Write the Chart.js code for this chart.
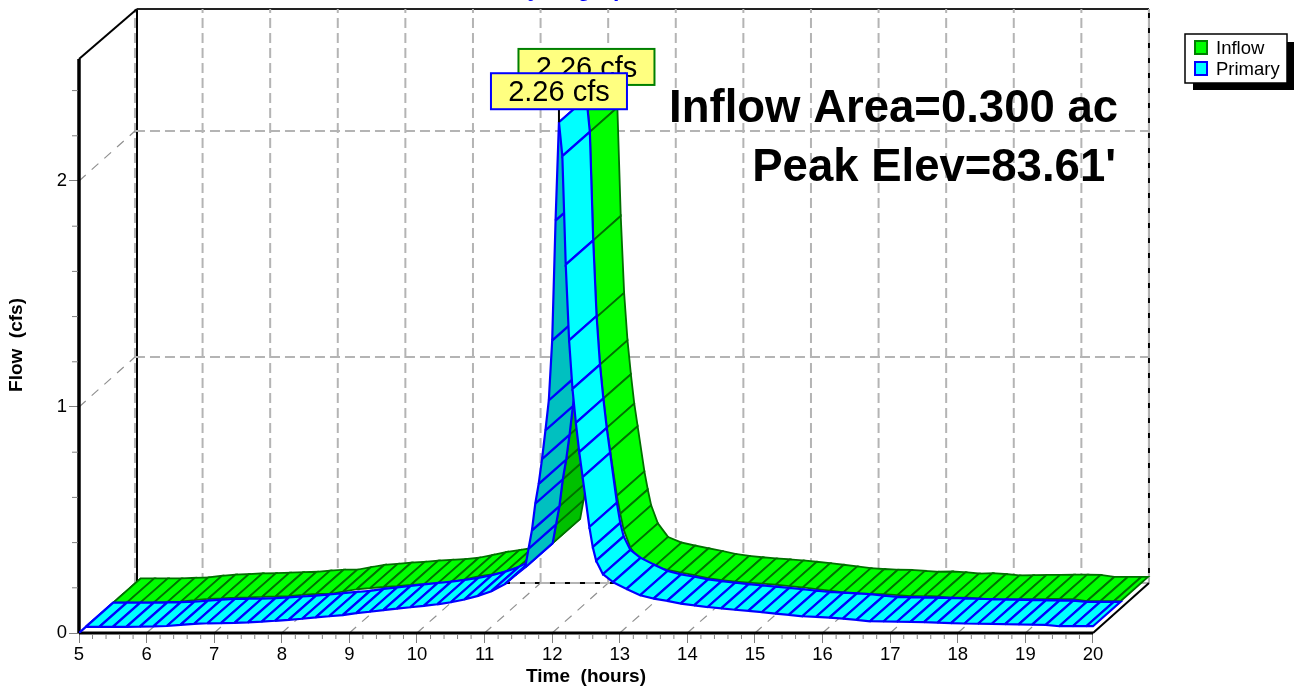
<!DOCTYPE html>
<html>
<head>
<meta charset="utf-8">
<title>Hydrograph</title>
<script src="https://cdn.jsdelivr.net/npm/chart.js@4/dist/chart.umd.min.js"></script>
<style>
  html, body { margin: 0; padding: 0; background: #fff; overflow: hidden; }
  canvas { display: block; }
</style>
</head>
<body>
<canvas id="myChart" width="1294" height="688"></canvas>
<script>
const seriesNames = ['Inflow', 'Primary']
const xTicks = [5, 6, 7, 8, 9, 10, 11, 12, 13, 14, 15, 16, 17, 18, 19, 20]
const yTicks = [0, 1, 2]
const peakLabels = ['2.26 cfs', '2.26 cfs']
const notes = ['Inflow Area=0.300 ac', "Peak Elev=83.61'"]

// hours, one entry per hatch line on the ribbons
const times = [5, 5.1, 5.3, 5.5, 5.7, 5.9, 6.1, 6.3, 6.5, 6.7, 6.9, 7.1, 7.3, 7.5, 7.7, 7.9, 8.1, 8.3, 8.5, 8.7,
  8.9, 9.1, 9.3, 9.5, 9.7, 9.9, 10.1, 10.3, 10.5, 10.7, 10.9, 11.1, 11.3, 11.45, 11.6, 11.65, 11.7, 11.75, 11.8, 11.85,
  11.9, 11.95, 12, 12.05, 12.1, 12.15, 12.2, 12.25, 12.3, 12.35, 12.4, 12.45, 12.55, 12.6, 12.65, 12.75, 12.9, 13.1, 13.3, 13.5,
  13.7, 13.9, 14.1, 14.3, 14.5, 14.7, 14.9, 15.1, 15.3, 15.5, 15.7, 15.9, 16.1, 16.3, 16.5, 16.7, 16.9, 17.1, 17.3, 17.5,
  17.7, 17.9, 18.1, 18.3, 18.5, 18.7, 18.9, 19.1, 19.3, 19.5, 19.7, 19.9, 20]

const inflow = [0, .027, .027, .027, .027, .029, .031, .038, .043, .046, .049, .05, .052, .054, .056, .061, .065, .065, .076, .086,
  .091, .096, .1, .105, .109, .112, .118, .13, .143, .152, .162, .185, .216, .255, .29, .373, .454, .573, .66, .77,
  .897, 1.03, 1.295, 1.826, 2.26, 2.11, 1.63, 1.29, 1.08, .93, .8, .7, .5, .42, .35, .27, .21, .185, .172, .16,
  .148, .135, .126, .12, .115, .111, .106, .1, .094, .087, .08, .072, .068, .065, .064, .06, .056, .057, .054, .048,
  .05, .046, .04, .041, .042, .042, .043, .043, .042, .033, .033, .033, .033]

const primary = [0, .027, .027, .027, .027, .028, .029, .031, .036, .04, .043, .044, .045, .047, .05, .054, .058, .063, .069, .074,
  .079, .088, .094, .101, .108, .114, .12, .127, .136, .148, .164, .185, .216, .255, .29, .373, .454, .573, .66, .77,
  .897, 1.03, 1.295, 1.826, 2.26, 2.11, 1.63, 1.295, 1.08, .93, .8, .69, .469, .38, .32, .26, .225, .195, .167, .152,
  .142, .13, .122, .115, .109, .103, .098, .092, .086, .08, .074, .071, .068, .064, .058, .052, .051, .05, .049, .048,
  .046, .044, .042, .041, .04, .039, .038, .037, .036, .03, .03, .03, .03]

// one ribbon is this deep, in axis units
const ribbonT = 0.407
const ribbonV = 0.1075
// the box behind the plot
const wallT = 0.858
const gridT = 0.828
const wallV = 0.2212
const axisTop = 2.54

const ribbon = (values, depth, face, back, edge, width) => {
  const list = []
  for (let i = 0; i < times.length - 1; i++) {
    const t0 = times[i] + depth * ribbonT
    const t1 = times[i + 1] + depth * ribbonT
    const v0 = values[i] + depth * ribbonV
    const v1 = values[i + 1] + depth * ribbonV
    const seenFromBehind = (v1 - v0) / (t1 - t0) > ribbonV / ribbonT
    list.push({
      data: [
        {x: t0, y: v0},
        {x: t1, y: v1},
        {x: t1 + ribbonT, y: v1 + ribbonV},
        {x: t0 + ribbonT, y: v0 + ribbonV},
        {x: t0, y: v0},
      ],
      fill: 'shape',
      backgroundColor: seenFromBehind ? back : face,
      borderColor: edge,
      borderWidth: width,
      pointRadius: 0,
      tension: 0,
    })
  }
  return list
}

// chart.js paints the last dataset first
const datasets = [
  ...ribbon(inflow, 1, '#00ff00', '#00c000', '#007000', 1.8),
  ...ribbon(primary, 0, '#00ffff', '#00c0c0', '#0000ff', 2.2),
].reverse()

const line = (ctx, x0, y0, x1, y1, color, width, dash) => {
  ctx.save()
  ctx.strokeStyle = color
  ctx.lineWidth = width
  ctx.setLineDash(dash || [])
  ctx.beginPath()
  ctx.moveTo(x0, y0)
  ctx.lineTo(x1, y1)
  ctx.stroke()
  ctx.restore()
}

const text = (ctx, str, x, y, font, color, align) => {
  ctx.font = font
  ctx.fillStyle = color
  ctx.textAlign = align || 'center'
  ctx.textBaseline = 'middle'
  ctx.fillText(str, x, y)
}

const box3d = {
  id: 'box3d',
  beforeDatasetsDraw(chart) {
    const {ctx, scales: {x, y}} = chart
    const px = t => x.getPixelForValue(t)
    const py = v => y.getPixelForValue(v)
    const grey = '#b4b4b4'
    const thin = '#909090'

    // back wall
    line(ctx, px(5 + wallT), py(0 + wallV), px(5 + wallT), py(axisTop + wallV), '#000', 2)
    line(ctx, px(5 + wallT), py(axisTop + wallV), px(20 + gridT), py(axisTop + wallV), '#222', 2)
    line(ctx, px(20 + gridT), py(0 + wallV), px(20 + gridT), py(axisTop + wallV), '#000', 2)
    line(ctx, px(5 + wallT), py(wallV), px(20 + gridT), py(wallV), '#000', 2)
    xTicks.forEach(t => {
      line(ctx, px(t + gridT), py(wallV), px(t + gridT), py(axisTop + wallV), grey, 2, [10, 5])
      line(ctx, px(t), py(0), px(t + gridT), py(wallV), thin, 1.2, [9, 8])
    })
    yTicks.forEach(v => {
      line(ctx, px(5 + gridT), py(v + wallV), px(20 + gridT), py(v + wallV), grey, 2, [10, 5])
      if (v > 0) line(ctx, px(5), py(v), px(5 + gridT), py(v + wallV), thin, 1.2, [9, 8])
    })

    // outline
    line(ctx, px(5), py(axisTop), px(5 + wallT), py(axisTop + wallV), '#000', 2)
    line(ctx, px(20), py(0), px(20 + gridT), py(wallV), '#000', 2)
    line(ctx, px(5), py(0), px(5), py(axisTop), '#000', 3.5)
    line(ctx, px(5), py(0), px(20), py(0), '#000', 3)

    // minor ticks
    for (let i = 1; i < 75; i++) {
      if (i % 5) line(ctx, px(5 + i * 0.2), py(0) + 1, px(5 + i * 0.2), py(0) + 6, '#808080', 1)
    }
    for (let i = 1; i < 13; i++) {
      if (i % 5) line(ctx, px(5) - 7, py(i * 0.2), px(5) - 1, py(i * 0.2), '#808080', 1)
    }
  },
  afterDatasetsDraw(chart) {
    const {ctx, scales: {x, y}} = chart
    const px = t => x.getPixelForValue(t)
    const py = v => y.getPixelForValue(v)

    text(ctx, 'Hydrograph', 576, -10, 'bold 23px "Liberation Sans", Arial', '#0000ff')

    // axis titles sit under the front edge of the box, not the whole chart area
    text(ctx, 'Time  (hours)', px(12.5), 677, 'bold 19px "Liberation Sans", Arial', '#000')
    ctx.save()
    ctx.translate(17, 345)
    ctx.rotate(-Math.PI / 2)
    text(ctx, 'Flow  (cfs)', 0, 0, 'bold 19px "Liberation Sans", Arial', '#000')
    ctx.restore()

    // peak labels
    const peak = primary.indexOf(Math.max(...primary))
    const labels = [
      {name: 0, t: times[peak] + ribbonT, v: inflow[peak] + ribbonV, edge: '#008000'},
      {name: 1, t: times[peak], v: primary[peak], edge: '#0000ff'},
    ]
    labels.forEach(({name, t, v, edge}) => {
      const cx = px(t)
      const cy = py(v)
      line(ctx, cx, cy, cx, cy - 13, '#000', 2)
      ctx.fillStyle = '#ffff80'
      ctx.strokeStyle = edge
      ctx.lineWidth = 2
      ctx.fillRect(cx - 68, cy - 49, 136, 36)
      ctx.strokeRect(cx - 68, cy - 49, 136, 36)
      text(ctx, peakLabels[name], cx, cy - 29, '29px "Liberation Sans", Arial', '#000')
    })

    text(ctx, notes[0], 1118, 109, 'bold 45.5px "Liberation Sans", Arial', '#000', 'right')
    text(ctx, notes[1], 1116, 168, 'bold 45.5px "Liberation Sans", Arial', '#000', 'right')

    // legend
    ctx.fillStyle = '#000'
    ctx.fillRect(1193, 42, 101, 48)
    ctx.fillStyle = '#fff'
    ctx.fillRect(1185, 34, 102, 49)
    ctx.strokeStyle = '#000'
    ctx.lineWidth = 1.5
    ctx.strokeRect(1185, 34, 102, 49)
    const swatches = [['#00ff00', '#008000', 41], ['#00ffff', '#0000ff', 62]]
    swatches.forEach(([face, edge, top], i) => {
      ctx.fillStyle = face
      ctx.strokeStyle = edge
      ctx.lineWidth = 2
      ctx.fillRect(1195, top, 12, 13)
      ctx.strokeRect(1195, top, 12, 13)
      text(ctx, seriesNames[i], 1216, top + 8, '18.5px "Liberation Sans", Arial', '#000', 'left')
    })
  },
}

new Chart('myChart', {
  type: 'line',
  data: {datasets},
  plugins: [box3d],
  options: {
    responsive: false,
    animation: false,
    events: [],
    layout: {padding: {top: 9, right: 143, left: 0, bottom: 0}},
    plugins: {
      legend: {display: false},
      tooltip: {enabled: false},
      title: {display: false},
    },
    scales: {
      x: {
        type: 'linear',
        min: 5,
        max: 20.858,
        afterFit: axis => {
          axis.height = 55
          axis.paddingLeft = 0
          axis.paddingRight = 0
        },
        afterBuildTicks: axis => { axis.ticks = xTicks.map(value => ({value})) },
        border: {display: false},
        grid: {drawOnChartArea: false, tickLength: 10, tickColor: '#808080', tickWidth: 1},
        ticks: {
          padding: 1,
          maxRotation: 0,
          autoSkip: false,
          color: '#000',
          font: {family: '"Liberation Sans", Arial', size: 18.5},
          callback: value => value,
        },
      },
      y: {
        type: 'linear',
        min: 0,
        max: 2.761,
        afterFit: axis => {
          axis.width = 79
          axis.paddingTop = 0
          axis.paddingBottom = 0
        },
        afterBuildTicks: axis => { axis.ticks = yTicks.map(value => ({value})) },
        border: {display: false},
        grid: {drawOnChartArea: false, tickLength: 10, tickColor: '#808080', tickWidth: 1},
        ticks: {
          padding: 2,
          autoSkip: false,
          color: '#000',
          font: {family: '"Liberation Sans", Arial', size: 18.5},
          callback: value => value,
        },
      },
    },
  },
})
</script>
</body>
</html>
